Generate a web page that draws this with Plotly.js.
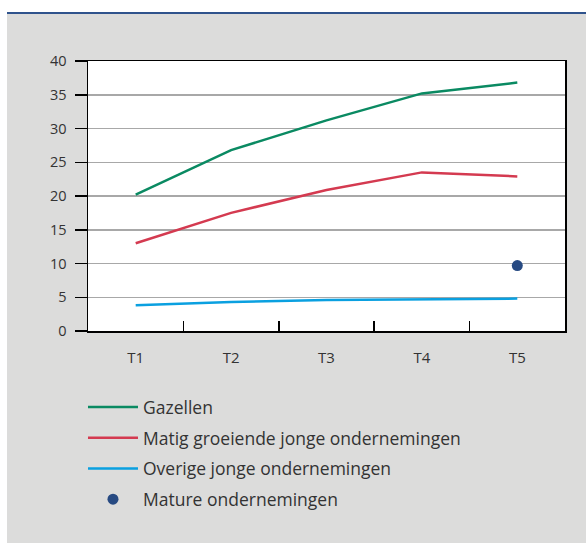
<!DOCTYPE html>
<html>
<head>
<meta charset="utf-8">
<script src="https://cdn.plot.ly/plotly-3.0.1.min.js"></script>
<style>
  html, body { margin: 0; padding: 0; background: #ffffff; width: 586px; height: 543px; overflow: hidden; }
  #frame { position: absolute; left: 7px; top: 12px; width: 579px; height: 529px; border-top: 2px solid #2f538c; background: #dcdcdb; }
  #chart { position: absolute; left: 0; top: 0; width: 579px; height: 529px; }
</style>
</head>
<body>
<div id="frame"><div id="chart"></div></div>
<script>
const categories = ["T1", "T2", "T3", "T4", "T5"];
const gazellen = [20.2, 26.8, 31.2, 35.2, 36.8];
const matig = [13.0, 17.5, 20.9, 23.5, 22.9];
const overige = [3.8, 4.3, 4.6, 4.7, 4.8];
const matureCat = ["T5"];
const mature = [9.7];
const seriesNames = ["Gazellen", "Matig groeiende jonge ondernemingen", "Overige jonge ondernemingen", "Mature ondernemingen"];
const yTicks = [0, 5, 10, 15, 20, 25, 30, 35, 40];

const font = "'Open Sans', 'Noto Sans', sans-serif";
const traces = [
  { x: categories, y: gazellen, name: seriesNames[0], type: "scatter", mode: "lines", line: { color: "#0a8a62", width: 2.5 }, legendgroup: "a" },
  { x: categories, y: matig, name: seriesNames[1], type: "scatter", mode: "lines", line: { color: "#d43a50", width: 2.5 }, legendgroup: "b" },
  { x: categories, y: overige, name: seriesNames[2], type: "scatter", mode: "lines", line: { color: "#0aa0e0", width: 2.5 }, legendgroup: "c" },
  { x: matureCat, y: mature, name: seriesNames[3], type: "scatter", mode: "markers", marker: { color: "#274a82", size: 11 }, legendgroup: "d" }
];
const layout = {
  width: 579, height: 529,
  paper_bgcolor: "#dcdcdb", plot_bgcolor: "#ffffff",
  margin: { l: 81, r: 21, t: 47, b: 212 },
  font: { family: font, size: 14, color: "#333333" },
  showlegend: true,
  legend: {
    x: -0.0105, xanchor: "left", y: -0.215, yanchor: "top",
    bgcolor: "rgba(0,0,0,0)", font: { size: 17.5, color: "#333333" },
    tracegroupgap: 5, itemwidth: 50, traceorder: "grouped"
  },
  xaxis: {
    type: "category", categoryorder: "array", categoryarray: categories,
    range: [-0.5, 4.5], showgrid: false, zeroline: false,
    showline: true, linecolor: "#000000", linewidth: 1.5, mirror: true,
    ticks: "inside", tickson: "boundaries", ticklen: 10, tickcolor: "#000000", tickwidth: 1.5,
    ticklabelstandoff: 12, tickfont: { size: 15, color: "#333333" }, fixedrange: true
  },
  yaxis: {
    range: [0, 40], tickvals: yTicks, showgrid: true, gridcolor: "#a8a8a8", gridwidth: 1.5,
    zeroline: false, showline: true, linecolor: "#000000", linewidth: 1.5, mirror: true,
    ticks: "outside", ticklen: 12, tickcolor: "#000000", tickwidth: 1.5,
    ticklabelstandoff: 5, tickfont: { size: 14.5, color: "#333333" }, fixedrange: true
  }
};
Plotly.newPlot("chart", traces, layout, { displayModeBar: false, staticPlot: true });
</script>
</body>
</html>
